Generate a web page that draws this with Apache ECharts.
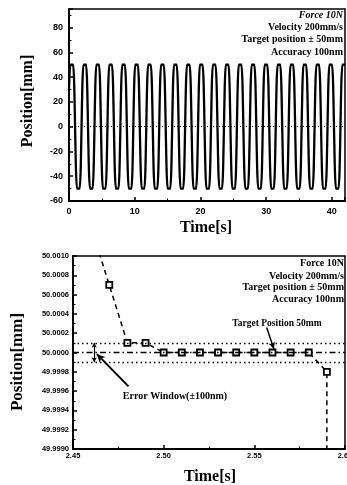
<!DOCTYPE html>
<html><head><meta charset="utf-8">
<script src="https://cdn.jsdelivr.net/npm/echarts@6/dist/echarts.min.js"></script>
<style>html,body{margin:0;padding:0;background:#fff}#c{width:347px;height:485px}</style>
</head><body><div id="c"></div>
<script>
// ---- Top panel: full motion record (time [s], position [mm]) ----
const topTime = [0, 0.23, 0.63, 1.22, 1.62, 2.20, 2.60, 3.19, 3.59, 4.17, 4.57, 5.16, 5.56,
  6.14, 6.54, 7.13, 7.53, 8.11, 8.51, 9.10, 9.50, 10.08, 10.48, 11.07, 11.47,
  12.05, 12.45, 13.04, 13.44, 14.02, 14.42, 15.01, 15.41, 15.99, 16.39, 16.98, 17.38,
  17.96, 18.36, 18.95, 19.35, 19.93, 20.33, 20.92, 21.32, 21.90, 22.30, 22.89, 23.29,
  23.87, 24.27, 24.86, 25.26, 25.84, 26.24, 26.83, 27.23, 27.81, 28.21, 28.80, 29.20,
  29.78, 30.18, 30.77, 31.17, 31.75, 32.15, 32.74, 33.14, 33.72, 34.12, 34.71, 35.11,
  35.69, 36.09, 36.68, 37.08, 37.66, 38.06, 38.65, 39.05, 39.63, 40.03, 40.62, 41.02,
  41.60, 42.00];
const topPos = [30, 50, 50, -50, -50, 50, 50, -50, -50, 50, 50, -50, -50,
  50, 50, -50, -50, 50, 50, -50, -50, 50, 50, -50, -50,
  50, 50, -50, -50, 50, 50, -50, -50, 50, 50, -50, -50,
  50, 50, -50, -50, 50, 50, -50, -50, 50, 50, -50, -50,
  50, 50, -50, -50, 50, 50, -50, -50, 50, 50, -50, -50,
  50, 50, -50, -50, 50, 50, -50, -50, 50, 50, -50, -50,
  50, 50, -50, -50, 50, 50, -50, -50, 50, 50, -50, -50,
  50, 50];
const topYTicks = [-60, -40, -20, 0, 20, 40, 60, 80];
const topXTicks = [0, 10, 20, 30, 40];

// ---- Bottom panel: zoom around the +50 mm target ----
const zoomTime = [2.46, 2.47, 2.48, 2.49, 2.50, 2.51, 2.52, 2.53, 2.54, 2.55, 2.56, 2.57, 2.58, 2.59, 2.59];
const zoomPos = [50.0013, 50.0007, 50.0001, 50.0001, 50.0000, 50.0000, 50.0000, 50.0000, 50.0000,
  50.0000, 50.0000, 50.0000, 50.0000, 49.9998, 49.9950];
const targetPos = 50.0000;
const windowUpper = 50.0001;
const windowLower = 49.9999;

const infoLines = ['Force 10N', 'Velocity 200mm/s', 'Target position \u00B1 50mm', 'Accuracy 100nm'];

const SERIF = "'Liberation Serif', 'Times New Roman', serif";
const SANS = "'Liberation Sans', Arial, sans-serif";

function axis(gridIndex, min, max, interval, fmt, fontSize, margin, showMax) {
  return {
    type: 'value', gridIndex, min, max, interval,
    axisLine: {show: true, onZero: false, lineStyle: {color: '#000', width: 2}},
    axisTick: {show: true, inside: true, length: 4, lineStyle: {color: '#000', width: 1.5}},
    minorTick: {show: true, splitNumber: 2, length: 2.5, lineStyle: {color: '#000', width: 1}},
    splitLine: {show: false},
    axisLabel: {color: '#000', fontFamily: SANS, fontWeight: 'bold', fontSize, margin,
      formatter: fmt, showMaxLabel: showMax, showMinLabel: true, hideOverlap: false}
  };
}

const chart = echarts.init(document.getElementById('c'), null, {renderer: 'canvas'});

function txt(x, y, text, size, align, opts) {
  return Object.assign({type: 'text', x, y, silent: true,
    style: {text, fill: '#000', font: 'bold ' + size + 'px ' + SERIF,
      align, verticalAlign: 'middle', textAlign: align, textVerticalAlign: 'middle'}}, opts || {});
}

const graphics = [
  txt(28, 101, 'Position[mm]', 16, 'center', {rotation: Math.PI / 2}),
  txt(206, 228, 'Time[s]', 16, 'center'),
  txt(18, 362, 'Position[mm]', 17, 'center', {rotation: Math.PI / 2}),
  txt(210, 477, 'Time[s]', 16, 'center'),
  txt(277, 324, 'Target Position 50mm', 9.5, 'center'),
  txt(175, 396, 'Error Window(\u00B1100nm)', 10, 'center')
];
const topInfoY = [15, 27, 39, 52];
const botInfoY = [263, 276, 287, 299];
infoLines.forEach((s, i) => {
  const g = txt(343, topInfoY[i], s, 10, 'right');
  if (i === 0) g.style.font = 'italic bold 10px ' + SERIF;
  graphics.push(g);
  graphics.push(txt(344, botInfoY[i], s, 10, 'right'));
});

chart.setOption({
  animation: false,
  backgroundColor: '#fff',
  grid: [
    {left: 69, top: 9, width: 276, height: 192, show: true, borderColor: '#000', borderWidth: 1.5,
      containLabel: false, outerBoundsMode: 'none'},
    {left: 73, top: 256, width: 272, height: 193, show: true, borderColor: '#000', borderWidth: 1.5,
      containLabel: false, outerBoundsMode: 'none'}
  ],
  xAxis: [
    axis(0, 0, 42, 10, v => String(v), 9, 6, false),
    axis(1, 2.45, 2.60, 0.05, v => v.toFixed(2), 7.5, 3, true)
  ],
  yAxis: [
    axis(0, -60, 95, 20, v => String(v), 9, 6, false),
    axis(1, 49.999, 50.001, 0.0002, v => v.toFixed(4), 7.5, 4, true)
  ],
  graphic: graphics,
  series: [
    {
      type: 'line', xAxisIndex: 0, yAxisIndex: 0, symbol: 'none', smooth: 0.25,
      data: topTime.map((t, i) => [t, topPos[i]]),
      lineStyle: {color: '#000', width: 2.3}, clip: true, z: 3,
      markLine: {silent: true, symbol: 'none', label: {show: false},
        lineStyle: {color: '#000', type: [1, 2], width: 1},
        data: [{yAxis: 0}]}
    },
    {
      type: 'line', xAxisIndex: 1, yAxisIndex: 1, symbol: 'rect', symbolSize: 6,
      data: zoomTime.map((t, i) => [t, zoomPos[i]]),
      lineStyle: {color: '#000', width: 1.5, type: [5, 4]},
      itemStyle: {color: '#fff', borderColor: '#000', borderWidth: 1.8},
      clip: true, z: 4,
      markLine: {silent: true, symbol: 'none', label: {show: false}, animation: false, precision: 6,
        data: [
          {yAxis: windowUpper, lineStyle: {color: '#000', type: [1.5, 3], width: 1.4}},
          {yAxis: windowLower, lineStyle: {color: '#000', type: [1.5, 3], width: 1.4}},
          {yAxis: targetPos, lineStyle: {color: '#000', type: [6, 3, 1.5, 3], width: 1.3}},
          [{coord: [2.5568, 50.000259], symbol: 'none', lineStyle: {color: '#000', width: 1.5, type: 'solid'}},
           {coord: [2.5608, 50.000035], symbol: 'arrow', symbolSize: [5, 7]}],
          [{coord: [2.4806, 49.999649], symbol: 'none', lineStyle: {color: '#000', width: 2, type: 'solid'}},
           {coord: [2.4632, 49.999983], symbol: 'arrow', symbolSize: [6, 8]}],
          [{coord: [2.4617, windowUpper], symbol: 'arrow', symbolSize: [4, 5], lineStyle: {color: '#000', width: 1.2, type: 'solid'}},
           {coord: [2.4617, windowLower], symbol: 'arrow', symbolSize: [4, 5]}]
        ]}
    }
  ]
});
</script>
</body></html>
